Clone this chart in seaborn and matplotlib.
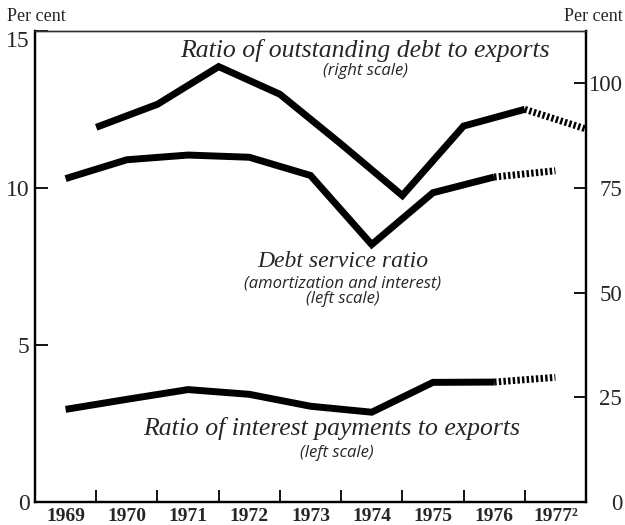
import matplotlib
matplotlib.use("Agg")
import matplotlib.pyplot as plt
import seaborn as sns
import pandas as pd
import numpy as np

years = ["1969", "1970", "1971", "1972", "1973", "1974", "1975", "1976", "1977²"]
debt_service = [10.3, 10.9, 11.05, 10.98, 10.4, 8.2, 9.85, 10.35, 10.55]
interest_ratio = [2.95, 3.27, 3.58, 3.43, 3.05, 2.86, 3.81, 3.82, 3.97]
outstanding_debt = [89.5, 95.0, 104.0, 97.4, 85.5, 73.2, 89.8, 93.8, 89.1]
left_ticks = [0, 5, 10, 15]
right_ticks = [0, 25, 50, 75, 100]

sns.set_theme(style="white")
plt.rcParams['font.family'] = ['Liberation Serif', 'DejaVu Serif']

fig = plt.figure(figsize=(6.25, 5.25), dpi=100)
ax = fig.add_axes([0.056, 0.0438, 0.8816, 0.8971])
ax2 = ax.twinx()

idx = np.arange(len(years))
df = pd.DataFrame({"pos": idx, "debt": debt_service, "interest": interest_ratio,
                   "out_pos": idx + 0.5, "out": outstanding_debt})
solid = df.iloc[:8]
proj = df.iloc[7:]

LW = 5.0
DOT = (0, (0.35, 0.32))

for col in ["debt", "interest"]:
    sns.lineplot(data=solid, x="pos", y=col, ax=ax, color="black", lw=LW,
                 solid_joinstyle="miter", solid_capstyle="butt", estimator=None, sort=False)
    sns.lineplot(data=proj, x="pos", y=col, ax=ax, color="black", lw=LW,
                 linestyle=DOT, estimator=None, sort=False)
sns.lineplot(data=solid, x="out_pos", y="out", ax=ax2, color="black", lw=LW,
             solid_joinstyle="miter", solid_capstyle="butt", estimator=None, sort=False)
sns.lineplot(data=proj, x="out_pos", y="out", ax=ax2, color="black", lw=LW,
             linestyle=DOT, estimator=None, sort=False)

ax.set_xlim(-0.5, len(years) - 0.5)
ax.set_ylim(0, 15)
ax2.set_ylim(0, 112.5)

ax.set_xticks(idx)
ax.set_xticklabels(years, fontsize=14, fontweight="bold")
ax.set_xticks(idx[:-1] + 0.5, minor=True)
ax.tick_params(axis="x", which="major", length=0, pad=4)
ax.tick_params(axis="x", which="minor", direction="in", length=9, width=1.3, color="black", bottom=True)

ax.set_yticks(left_ticks)
ylabels = ax.set_yticklabels([str(v) for v in left_ticks], fontsize=17)
ylabels[-1].set_verticalalignment("top")
ax.tick_params(axis="y", direction="in", length=9, width=1.3, color="black", pad=4, left=True)
ax2.set_yticks(right_ticks)
ax2.set_yticklabels([str(v) for v in right_ticks], fontsize=16.5, ha="right")
ax2.tick_params(axis="y", direction="in", length=9, width=1.3, color="black", pad=26, right=True)

ax.set_xlabel("")
ax.set_ylabel("")
ax2.set_ylabel("")

for a in (ax, ax2):
    for s in ["left", "right", "bottom"]:
        a.spines[s].set_color("black")
        a.spines[s].set_linewidth(1.6)
    a.spines["top"].set_color("#333333")
    a.spines["top"].set_linewidth(1.0)

fig.text(0.011, 0.969, "Per cent", fontsize=13, ha="left", va="center")
fig.text(0.997, 0.969, "Per cent", fontsize=13, ha="right", va="center")

tf = ax.transAxes
sub = dict(fontsize=12, style="italic", ha="center", va="baseline", family=["Open Sans", "DejaVu Sans"])
ax.text(0.599, 0.945, "Ratio of outstanding debt to exports", transform=tf,
        fontsize=18.5, style="italic", ha="center", va="baseline")
ax.text(0.599, 0.906, "(right scale)", transform=tf, **sub)
ax.text(0.559, 0.4990, "Debt service ratio", transform=tf,
        fontsize=17, style="italic", ha="center", va="baseline")
ax.text(0.559, 0.4544, "(amortization and interest)", transform=tf, **sub)
ax.text(0.559, 0.4215, "(left scale)", transform=tf, **sub)
ax.text(0.539, 0.1423, "Ratio of interest payments to exports", transform=tf,
        fontsize=18.5, style="italic", ha="center", va="baseline")
ax.text(0.548, 0.0955, "(left scale)", transform=tf, **sub)

fig.savefig("out.png", dpi=100)
